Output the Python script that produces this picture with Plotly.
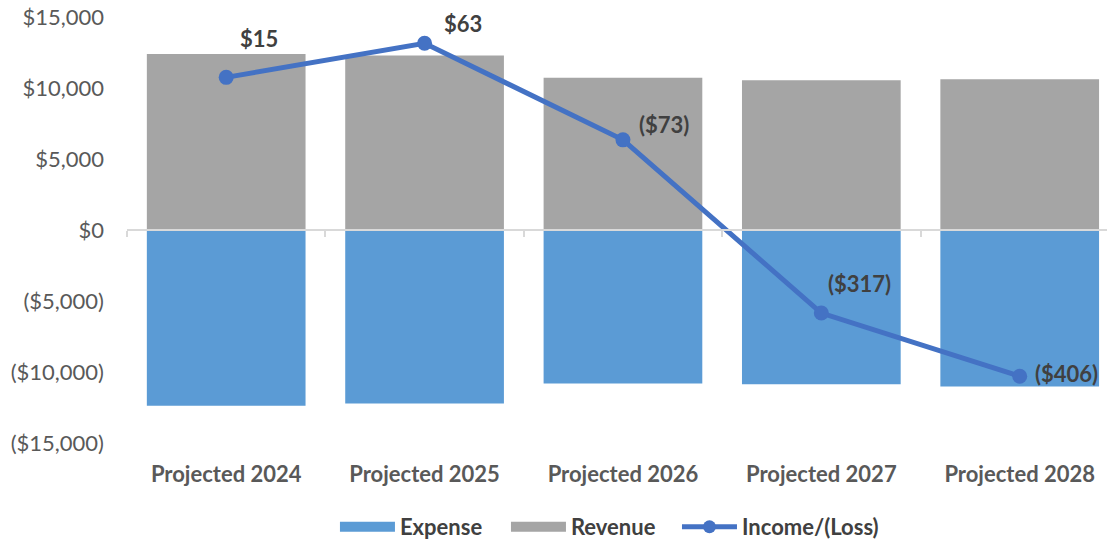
import plotly.graph_objects as go

categories = ["Projected 2024", "Projected 2025", "Projected 2026", "Projected 2027", "Projected 2028"]
revenue = [12400, 12280, 10730, 10550, 10620]
expense = [-12385, -12217, -10803, -10867, -11026]
income = [15, 63, -73, -317, -406]

y_ticks = [15000, 10000, 5000, 0, -5000, -10000, -15000]


def money(v):
    return f"${v:,.0f}" if v >= 0 else f"(${-v:,.0f})"


FONT = "Lato"
BLUE, GRAY, LINE = "#5B9BD5", "#A5A5A5", "#4472C4"
label_shift = [(33, 39), (38, 20), (41, 15), (38, 30), (47, 3)]

fig = go.Figure()
fig.add_trace(go.Bar(name="Expense", x=categories, y=expense, marker_color=BLUE,
                     marker_line_width=0, showlegend=False))
fig.add_trace(go.Bar(name="Revenue", x=categories, y=revenue, marker_color=GRAY,
                     marker_line_width=0, showlegend=False))
fig.add_trace(go.Scatter(name="Income/(Loss)", x=categories, y=income, yaxis="y2",
                         mode="lines+markers", line=dict(color=LINE, width=5),
                         marker=dict(color=LINE, size=15), showlegend=False))
# legend proxies (wide swatches like the original), one legend box each
fig.add_trace(go.Scatter(name="Expense", x=[None], y=[None], mode="lines",
                         line=dict(color=BLUE, width=14), legend="legend"))
fig.add_trace(go.Scatter(name="Revenue", x=[None], y=[None], mode="lines",
                         line=dict(color=GRAY, width=14), legend="legend2"))
fig.add_trace(go.Scatter(name="Income/(Loss)", x=[None], y=[None], mode="lines+markers",
                         line=dict(color=LINE, width=5), marker=dict(color=LINE, size=13),
                         legend="legend3"))
# helper (invisible) so the zero-level category axis renders
fig.add_trace(go.Scatter(x=categories, y=[None] * len(categories), xaxis="x2",
                         showlegend=False, hoverinfo="skip"))

for c, v, (dx, dy) in zip(categories, income, label_shift):
    fig.add_annotation(x=c, y=v, xref="x", yref="y2", text=f"<b>{money(v)}</b>",
                       showarrow=False, xshift=dx, yshift=dy,
                       font=dict(family=FONT, size=22, color="#404040"))

legend_font = dict(family=FONT, size=22, color="#404040", weight="bold")
legend_common = dict(orientation="h", xanchor="left", y=-0.197, yanchor="middle",
                     font=legend_font, itemwidth=55, bgcolor="rgba(0,0,0,0)")

fig.update_layout(
    width=1113, height=543,
    margin=dict(l=127, r=6, t=17, b=100, autoexpand=False),
    barmode="relative", bargap=0.2,
    plot_bgcolor="white", paper_bgcolor="white",
    font=dict(family=FONT, size=22, color="#595959"),
    xaxis=dict(type="category", categoryorder="array", categoryarray=categories,
               range=[-0.5, 4.44], showline=False, showgrid=False, ticks="",
               automargin=False,
               tickfont=dict(family=FONT, size=22, color="#595959", weight="bold"),
               ticklabelstandoff=16),
    xaxis2=dict(type="category", categoryorder="array", categoryarray=categories,
                overlaying="x", anchor="free", position=0.5, range=[-0.5, 4.44],
                showline=True, linecolor="#D9D9D9", linewidth=2, automargin=False,
                ticks="outside", tickson="boundaries", ticklen=6, tickcolor="#D9D9D9",
                tickwidth=2, showticklabels=False, showgrid=False),
    yaxis=dict(range=[-15000, 15000], tickvals=y_ticks, ticktext=[money(v) for v in y_ticks],
               showgrid=False, zeroline=False, showline=False, ticklabelstandoff=22,
               automargin=False,
               tickfont=dict(family=FONT, size=22, color="#595959")),
    yaxis2=dict(range=[-500, 100], overlaying="y", side="right", visible=False,
                automargin=False),
    legend=dict(x=0.2122, **legend_common),
    legend2=dict(x=0.3867, **legend_common),
    legend3=dict(x=0.5612, **legend_common),
    showlegend=True,
)

fig.write_html("out.html", config={"displayModeBar": False},
               post_script="document.body.style.margin='0';document.body.style.overflow='hidden';")
